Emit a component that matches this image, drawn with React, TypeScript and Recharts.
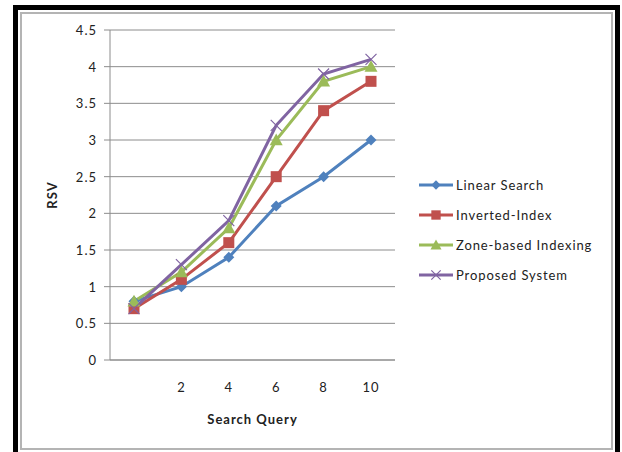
import React from 'react';
import { LineChart, Line, XAxis, YAxis, CartesianGrid } from 'recharts';

const categories = ['', '2', '4', '6', '8', '10'];
const linearSearch = [0.8, 1.0, 1.4, 2.1, 2.5, 3.0];
const invertedIndex = [0.7, 1.1, 1.6, 2.5, 3.4, 3.8];
const zoneBased = [0.8, 1.2, 1.8, 3.0, 3.8, 4.0];
const proposedSystem = [0.7, 1.3, 1.9, 3.2, 3.9, 4.1];
const yTicks = [0, 0.5, 1, 1.5, 2, 2.5, 3, 3.5, 4, 4.5];

const seriesNames = ['Linear Search', 'Inverted-Index', 'Zone-based Indexing', 'Proposed System'];
const colors = ['#4F81BD', '#C0504D', '#9BBB59', '#8064A2'];

const data = categories.map((q, i) => ({
  q,
  linear: linearSearch[i],
  inverted: invertedIndex[i],
  zone: zoneBased[i],
  proposed: proposedSystem[i],
}));

const FONT = 'Lato, "Open Sans", sans-serif';

const Marker = ({ kind, cx, cy, color, small }: any) => {
  if (cx == null || cy == null) return null;
  const k = small ? 0.85 : 1;
  if (kind === 0) {
    const r = 5.5 * k;
    return <path d={`M${cx},${cy - r}L${cx + r},${cy}L${cx},${cy + r}L${cx - r},${cy}Z`} fill={color} />;
  }
  if (kind === 1) {
    const r = 5.5 * k;
    return <rect x={cx - r} y={cy - r} width={2 * r} height={2 * r} fill={color} />;
  }
  if (kind === 2) {
    const r = 6.5 * k;
    return <path d={`M${cx},${cy - r}L${cx + r},${cy + r * 0.8}L${cx - r},${cy + r * 0.8}Z`} fill={color} />;
  }
  const r = 5.5 * k;
  return (
    <path
      d={`M${cx - r},${cy - r}L${cx + r},${cy + r}M${cx - r},${cy + r}L${cx + r},${cy - r}`}
      stroke={color}
      strokeWidth={1.2}
      fill="none"
    />
  );
};

const makeDot = (kind: number) => (props: any) => (
  <Marker key={`${kind}-${props.index}`} kind={kind} cx={props.cx} cy={props.cy} color={colors[kind]} />
);

const XTick = (props: any) => {
  const { x, y, payload } = props;
  return (
    <text
      x={x}
      y={y + 27}
      textAnchor="middle"
      dominantBaseline="central"
      fontSize={13}
      fill="#222"
      fontFamily={FONT}
      style={{ letterSpacing: 1 }}
    >
      {payload.value}
    </text>
  );
};

const YTick = (props: any) => {
  const { x, y, payload } = props;
  return (
    <text
      x={x}
      y={y}
      textAnchor="end"
      dominantBaseline="central"
      fontSize={13}
      fill="#222"
      fontFamily={FONT}
      style={{ letterSpacing: 1 }}
    >
      {payload.value}
    </text>
  );
};

const LegendBox = () => (
  <div style={{ position: 'absolute', left: 418, top: 170, fontFamily: FONT, fontSize: 13, color: '#222' }}>
    {seriesNames.map((name, i) => (
      <div key={name} style={{ height: 30, display: 'flex', alignItems: 'center', whiteSpace: 'nowrap' }}>
        <svg width={36} height={14} style={{ marginRight: 2 }}>
          <line x1={1} y1={7} x2={35} y2={7} stroke={colors[i]} strokeWidth={3} />
          <Marker kind={i} cx={18} cy={7} color={colors[i]} small />
        </svg>
        <span style={{ letterSpacing: 0.9 }}>{name}</span>
      </div>
    ))}
  </div>
);

const YLabel = (props: any) => {
  const { viewBox } = props;
  const cx = viewBox.x + 52;
  const cy = viewBox.y + viewBox.height / 2;
  return (
    <text
      x={cx}
      y={cy}
      transform={`rotate(-90 ${cx} ${cy})`}
      textAnchor="middle"
      dominantBaseline="central"
      fontSize={13}
      fontWeight="bold"
      fill="#222"
      fontFamily={FONT}
      style={{ letterSpacing: 1 }}
    >
      RSV
    </text>
  );
};

const XLabel = (props: any) => {
  const { viewBox } = props;
  const cx = viewBox.x + viewBox.width / 2;
  const cy = viewBox.y + 59;
  return (
    <text
      x={cx}
      y={cy}
      textAnchor="middle"
      dominantBaseline="central"
      fontSize={13}
      fontWeight="bold"
      fill="#222"
      fontFamily={FONT}
      style={{ letterSpacing: 1 }}
    >
      Search Query
    </text>
  );
};

export default function App() {
  return (
    <div style={{ position: 'absolute', left: 0, top: 0, width: 622, height: 452, background: '#fff', overflow: 'hidden' }}>
      <div
        style={{
          position: 'absolute',
          left: 13,
          top: 5,
          width: 607,
          height: 460,
          boxSizing: 'border-box',
          border: '5px solid #000',
        }}
      />
      <div
        style={{
          position: 'absolute',
          left: 20,
          top: 12,
          width: 593,
          height: 438,
          boxSizing: 'border-box',
          border: '2px solid #b4b4b4',
        }}
      />
      <div style={{ position: 'absolute', left: 0, top: 0 }}>
        <LineChart width={622} height={452} data={data} margin={{ top: 30, right: 227, bottom: 0, left: 0 }}>
          <CartesianGrid horizontal vertical={false} stroke="#8c8c8c" />
          <XAxis
            dataKey="q"
            type="category"
            height={92}
            padding={{ left: 24, right: 24 }}
            tickLine={false}
            tickSize={0}
            tickMargin={0}
            axisLine={{ stroke: '#8c8c8c' }}
            tick={<XTick />}
            interval={0}
            label={<XLabel />}
          />
          <YAxis
            width={110}
            domain={[0, 4.5]}
            ticks={yTicks}
            interval={0}
            tickSize={6}
            tickMargin={7}
            tickLine={{ stroke: '#8c8c8c' }}
            axisLine={{ stroke: '#8c8c8c' }}
            tick={<YTick />}
            label={<YLabel />}
          />
          <Line dataKey="linear" name={seriesNames[0]} stroke={colors[0]} strokeWidth={3} dot={makeDot(0)} isAnimationActive={false} />
          <Line dataKey="inverted" name={seriesNames[1]} stroke={colors[1]} strokeWidth={3} dot={makeDot(1)} isAnimationActive={false} />
          <Line dataKey="zone" name={seriesNames[2]} stroke={colors[2]} strokeWidth={3} dot={makeDot(2)} isAnimationActive={false} />
          <Line dataKey="proposed" name={seriesNames[3]} stroke={colors[3]} strokeWidth={3} dot={makeDot(3)} isAnimationActive={false} />
        </LineChart>
      </div>
      <LegendBox />
    </div>
  );
}
